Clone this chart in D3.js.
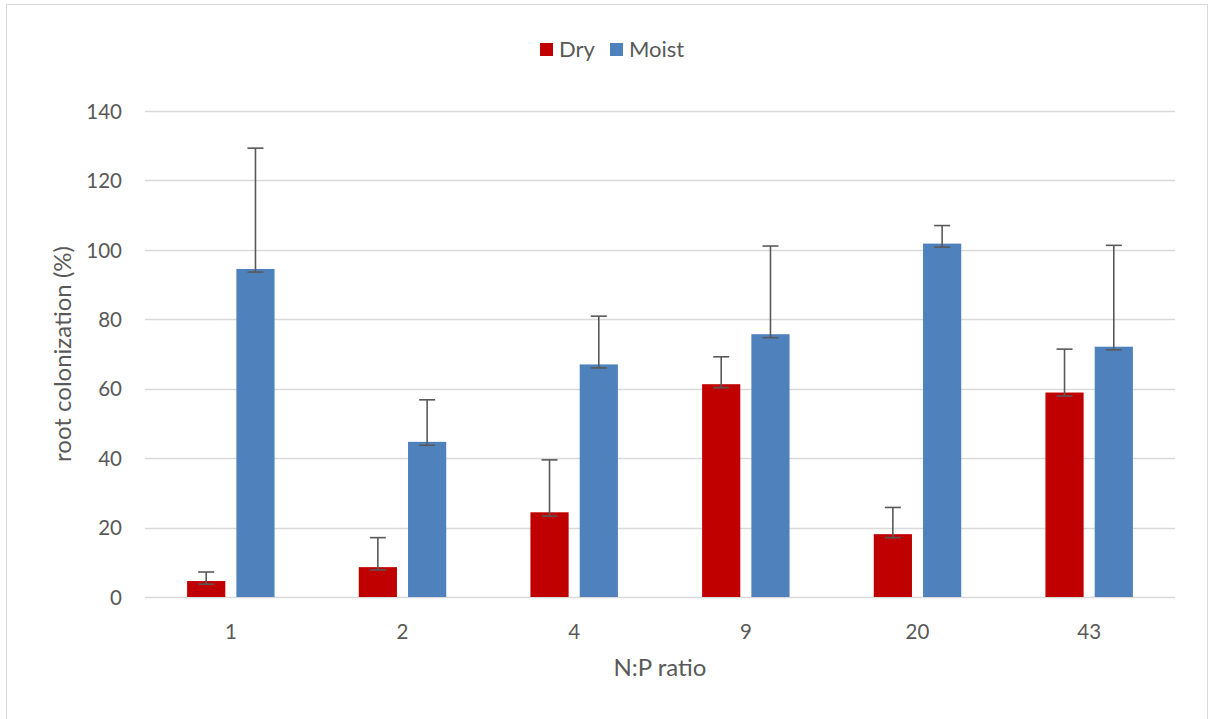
<!DOCTYPE html>
<html>
<head>
<meta charset="utf-8">
<script src="https://cdn.jsdelivr.net/npm/d3@7"></script>
<style>
  html, body { margin: 0; padding: 0; background: #fff; }
  svg { display: block; }
  text { font-family: Lato, "Open Sans", sans-serif; fill: #595959; }
</style>
</head>
<body>
<svg id="chart" width="1209" height="719"></svg>
<script>
// ---- data ----
const categories = ["1", "2", "4", "9", "20", "43"];
const seriesNames = ["Dry", "Moist"];
const dryValues   = [4.6, 8.6, 24.4, 61.3, 18.1, 58.9];
const moistValues = [94.5, 44.7, 67.0, 75.7, 101.8, 72.1];
const dryErrUp    = [2.6, 8.5, 15.1, 7.9, 7.7, 12.5];
const moistErrUp  = [34.8, 12.1, 13.9, 25.4, 5.2, 29.2];
const dryErrDown  = [0.9, 0.8, 1.1, 1.0, 1.0, 1.0];
const moistErrDown= [0.9, 1.0, 1.0, 1.0, 1.0, 0.9];
const yTicks = [0, 20, 40, 60, 80, 100, 120, 140];
const colors = ["#C00000", "#4F81BD"];

const rows = categories.map((c, i) => ({
  cat: c,
  vals: [
    { s: 0, v: dryValues[i],   up: dryErrUp[i],   dn: dryErrDown[i] },
    { s: 1, v: moistValues[i], up: moistErrUp[i], dn: moistErrDown[i] }
  ]
}));

const svg = d3.select("#chart");

// chart border
svg.append("rect")
  .attr("x", 6.5).attr("y", 4.5)
  .attr("width", 1201).attr("height", 730)
  .attr("fill", "#fff").attr("stroke", "#d9d9d9").attr("stroke-width", 1);

const plot = { left: 145, right: 1175, top: 111, bottom: 597 };

const x = d3.scaleBand().domain(categories)
  .range([plot.left, plot.right]).paddingInner(0).paddingOuter(0);
const y = d3.scaleLinear().domain([0, 140]).range([plot.bottom, plot.top]);

const barW = x.bandwidth() * 0.2225;
const barGap = barW * 0.29;
const x1 = s => (x.bandwidth() / 2) + (s === 0 ? -(barGap / 2 + barW) : barGap / 2);

// gridlines
svg.append("g").selectAll("line").data(yTicks).join("line")
  .attr("x1", plot.left).attr("x2", plot.right)
  .attr("y1", d => Math.round(y(d)) + 0.5).attr("y2", d => Math.round(y(d)) + 0.5)
  .attr("stroke", "#d9d9d9").attr("stroke-width", 1.3);

// y axis labels
const yAxis = d3.axisLeft(y).tickValues(yTicks).tickSize(0).tickPadding(0);
const gy = svg.append("g").attr("transform", `translate(122,0)`).call(yAxis);
gy.select(".domain").remove();
gy.selectAll("text").attr("font-size", 20.5).style("font-family", "Lato, sans-serif")
  .attr("fill", "#595959").attr("dy", "0.35em");

// x axis labels
const xAxis = d3.axisBottom(x).tickSize(0).tickPadding(0);
const gx = svg.append("g").attr("transform", `translate(0,${plot.bottom})`).call(xAxis);
gx.select(".domain").remove();
gx.selectAll("text").attr("font-size", 20.5).style("font-family", "Lato, sans-serif")
  .attr("fill", "#595959").attr("dy", null).attr("y", 42);

// bars
const groups = svg.append("g").selectAll("g").data(rows).join("g")
  .attr("transform", d => `translate(${x(d.cat)},0)`);

groups.selectAll("rect").data(d => d.vals).join("rect")
  .attr("x", d => x1(d.s))
  .attr("width", barW)
  .attr("y", d => y(d.v))
  .attr("height", d => y(0) - y(d.v))
  .attr("fill", d => colors[d.s]);

// error bars
const capW = 8;
const eb = groups.selectAll("g.err").data(d => d.vals).join("g").attr("class", "err")
  .attr("stroke", "#595959").attr("stroke-width", 1.6);
eb.append("line")
  .attr("x1", d => x1(d.s) + barW / 2).attr("x2", d => x1(d.s) + barW / 2)
  .attr("y1", d => y(d.v - d.dn)).attr("y2", d => y(d.v + d.up));
eb.append("line")
  .attr("x1", d => x1(d.s) + barW / 2 - capW).attr("x2", d => x1(d.s) + barW / 2 + capW)
  .attr("y1", d => y(d.v + d.up)).attr("y2", d => y(d.v + d.up));
eb.append("line")
  .attr("x1", d => x1(d.s) + barW / 2 - capW).attr("x2", d => x1(d.s) + barW / 2 + capW)
  .attr("y1", d => y(d.v - d.dn)).attr("y2", d => y(d.v - d.dn));

// axis titles
svg.append("text")
  .attr("x", 660).attr("y", 676).attr("text-anchor", "middle")
  .attr("font-size", 24).text("N:P ratio");
svg.append("text")
  .attr("transform", `translate(71,${(plot.top + plot.bottom) / 2}) rotate(-90)`)
  .attr("text-anchor", "middle").attr("font-size", 24)
  .text("root colonization (%)");

// legend
const legendX = [540, 610];
const leg = svg.append("g").selectAll("g").data(seriesNames).join("g")
  .attr("transform", (d, i) => `translate(${legendX[i]},43)`);
leg.append("rect").attr("width", 13).attr("height", 13)
  .attr("fill", (d, i) => colors[i]);
leg.append("text").attr("x", 19).attr("y", 14)
  .attr("font-size", 22).text(d => d);
</script>
</body>
</html>
